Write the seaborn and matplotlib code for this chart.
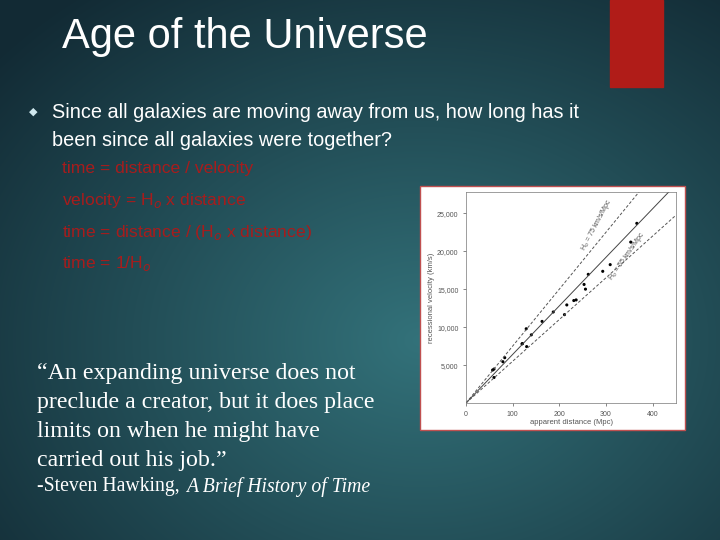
import matplotlib

matplotlib.use("Agg")
import matplotlib.pyplot as plt
import numpy as np
import seaborn as sns
from matplotlib.patches import Rectangle

sns.set_style("ticks")
plt.rcParams["font.family"] = ["Liberation Sans", "DejaVu Sans"]

# Hubble diagram data
distance_mpc = [57, 60, 60, 79, 83, 120, 121, 129, 130, 140, 163, 187, 211, 216,
                231, 236, 253, 256, 262, 293, 309, 353, 366]
velocity_kms = [4340, 4470, 3360, 5440, 5970, 7790, 7830, 9780, 7430, 8980, 10750,
                11990, 11640, 12920, 13500, 13580, 15620, 15000, 16950, 17350,
                18230, 21200, 23670]
hubble_fit = 64
hubble_bounds = [75, 55]
x_ticks = [0, 100, 200, 300, 400]
y_ticks = [5000, 10000, 15000, 20000, 25000]

fig = plt.figure(figsize=(7.2, 5.4), dpi=100)

# slide background: radial teal gradient
bg = fig.add_axes([0, 0, 1, 1])
yy, xx = np.mgrid[0:540, 0:720]
r = np.sqrt(((xx - 420) / 560) ** 2 + ((yy - 340) / 440) ** 2)
r = np.clip(r, 0, 1)
c_in = np.array([0x33, 0x72, 0x7a]) / 255
c_out = np.array([0x12, 0x2a, 0x34]) / 255
img = c_in[None, None, :] * (1 - r[..., None]) + c_out[None, None, :] * r[..., None]
bg.imshow(img, extent=[0, 720, 540, 0], aspect="auto")
bg.set_xlim(0, 720)
bg.set_ylim(540, 0)
bg.axis("off")
bg.add_patch(Rectangle((610, 0), 53, 87, color="#b01c18"))
bg.add_patch(Rectangle((420, 186), 265, 244, facecolor="white", edgecolor="#c05050", lw=1))

bg.text(62, 37, "Age of the Universe", color="white", fontsize=30, va="center")
bg.text(33, 112, "\u25c6", color="#cfe8ee", fontsize=8, va="center", ha="center",
        family="DejaVu Sans")
bullet = ["Since all galaxies are moving away from us, how long has it",
          "been since all galaxies were together?"]
for i, s in enumerate(bullet):
    bg.text(52, 112 + i * 28.5, s, color="white", fontsize=14.3, va="center")
red = "#a81c1c"
lines = ["time = distance / velocity", "velocity = H$_o$ x distance",
         "time = distance / (H$_o$ x distance)", "time = 1/H$_o$"]
for i, s in enumerate(lines):
    bg.text(62, 169 + i * 31.5, s, color=red, fontsize=12.6, va="center")
quote = ["\u201cAn expanding universe does not", "preclude a creator, but it does place",
         "limits on when he might have", "carried out his job.\u201d"]
for i, s in enumerate(quote):
    bg.text(37, 374 + i * 28.7, s, color="white", fontsize=17.2, va="center",
            family="Liberation Serif")
t1 = bg.text(37, 487, "-Steven Hawking, ", color="white", fontsize=14.2, va="center",
             family="Liberation Serif")
fig.canvas.draw()
x_end = bg.transData.inverted().transform(t1.get_window_extent().get_points())[1, 0]
bg.text(x_end + 1, 487, "A Brief History of Time", color="white", fontsize=14.2,
        va="center", family="Liberation Serif", style="italic")

# embedded chart
ax = fig.add_axes([466 / 720, 137 / 540, 210 / 720, 211 / 540])
xs = np.array([0, 450])
ax.plot(xs, hubble_fit * xs, color="#444444", lw=0.7)
for h in hubble_bounds:
    ax.plot(xs, h * xs, color="#555555", lw=0.7, ls=(0, (3, 2)))
sns.scatterplot(x=distance_mpc, y=velocity_kms, ax=ax, color="black", s=5,
                edgecolor="none")
ax.set_xlim(0, 450)
ax.set_ylim(0, 27800)
ax.set_xticks(x_ticks)
ax.set_yticks(y_ticks)
ax.set_yticklabels([f"{v:,}" for v in y_ticks])
ax.tick_params(labelsize=5, colors="#555555", length=2, width=0.5)
ax.set_xlabel("apparent distance (Mpc)", fontsize=5.5, color="#555555", labelpad=1)
ax.set_ylabel("recessional velocity (km/s)", fontsize=5.5, color="#555555", labelpad=1)
for sp in ax.spines.values():
    sp.set_linewidth(0.5)
    sp.set_color("#777777")
    sp.set_visible(True)
ax.text(240, 20300, "H$_o$ = 75 km/s/Mpc", rotation=62, fontsize=5, color="#555555")
ax.text(300, 16300, "H$_o$ = 55 km/s/Mpc", rotation=55, fontsize=5, color="#555555")

fig.savefig("out.png", dpi=100)
